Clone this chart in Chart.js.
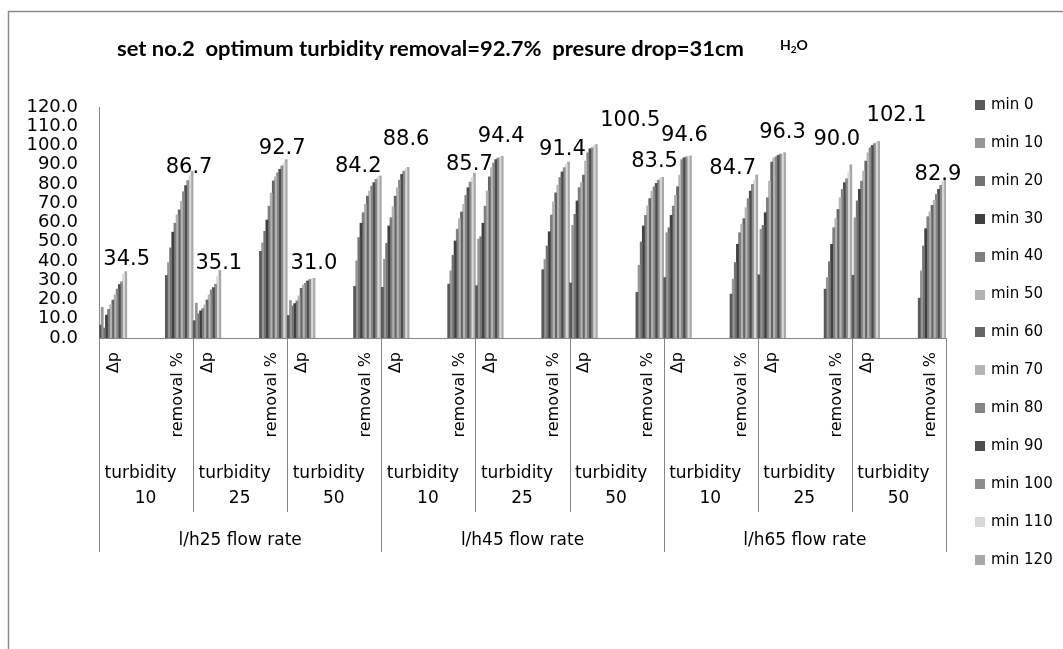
<!DOCTYPE html>
<html>
<head>
<meta charset="utf-8">
<script src="https://cdn.jsdelivr.net/npm/chart.js@4.4.1/dist/chart.umd.min.js"></script>
<style>
  body { margin: 0; background: #fff; }
  #wrap { width: 1063px; height: 649px; position: relative; }
</style>
</head>
<body>
<div id="wrap"><canvas id="myChart"></canvas></div>
<script>
// series = sampling time, categories = flow rate / turbidity / measured quantity
const minutes = ["min 0", "min 10", "min 20", "min 30", "min 40", "min 50", "min 60",
  "min 70", "min 80", "min 90", "min 100", "min 110", "min 120"];
const categories = ["Δp", "removal %", "Δp", "removal %", "Δp", "removal %",
  "Δp", "removal %", "Δp", "removal %", "Δp", "removal %",
  "Δp", "removal %", "Δp", "removal %", "Δp", "removal %"];
const turbidityLabels = ["10", "25", "50", "10", "25", "50", "10", "25", "50"];
const flowLabels = ["l/h25 flow rate", "l/h45 flow rate", "l/h65 flow rate"];
const yTicks = [0, 10, 20, 30, 40, 50, 60, 70, 80, 90, 100, 110, 120];

// values per category, min 0 .. min 120
const f25_t10_dp = [6.7, 15.9, 5.2, 11.9, 14.9, 17.3, 19.7, 22.5, 25.4, 27.8, 29.2, 33.2, 34.5];
const f25_t10_rem = [32.5, 39.2, 46.8, 55.0, 59.6, 64.0, 66.6, 71.0, 76.0, 79.2, 81.8, 84.2, 86.7];
const f25_t25_dp = [9.0, 18.1, 12.6, 14.1, 15.3, 17.2, 19.8, 22.4, 25.0, 26.2, 28.0, 31.9, 35.1];
const f25_t25_rem = [45.0, 49.4, 55.4, 61.3, 68.5, 75.3, 81.6, 83.8, 85.8, 87.6, 89.4, 91.0, 92.7];
const f25_t50_dp = [11.7, 19.5, 16.6, 17.9, 19.3, 21.9, 25.8, 27.6, 28.4, 29.6, 30.4, 30.8, 31.0];
const f25_t50_rem = [26.8, 40.1, 52.2, 59.6, 65.1, 69.5, 73.7, 76.3, 78.9, 80.7, 82.4, 83.6, 84.2];
const f45_t10_dp = [26.3, 40.9, 49.2, 58.2, 62.5, 68.2, 73.7, 78.1, 82.0, 85.0, 86.7, 87.9, 88.6];
const f45_t10_rem = [28.0, 34.9, 43.0, 50.4, 56.5, 62.0, 65.5, 69.4, 74.1, 78.1, 81.0, 83.5, 85.7];
const f45_t25_dp = [27.2, 51.4, 52.6, 59.6, 68.5, 76.4, 83.7, 88.5, 90.9, 92.7, 93.5, 94.0, 94.4];
const f45_t25_rem = [35.5, 40.8, 47.8, 55.2, 63.9, 70.7, 75.4, 79.4, 83.4, 86.3, 88.5, 90.2, 91.4];
const f45_t50_dp = [28.6, 58.5, 64.2, 71.2, 78.1, 80.7, 84.6, 91.9, 96.2, 98.3, 98.8, 100.0, 100.5];
const f45_t50_rem = [23.7, 37.8, 49.9, 58.2, 63.7, 68.6, 72.4, 76.3, 78.5, 80.3, 82.0, 83.2, 83.5];
const f65_t10_dp = [31.4, 54.7, 57.3, 63.7, 68.5, 74.1, 78.6, 84.6, 92.7, 93.6, 94.1, 94.4, 94.6];
const f65_t10_rem = [22.8, 30.6, 39.2, 48.7, 54.7, 59.1, 62.0, 67.7, 72.4, 76.3, 79.8, 82.0, 84.7];
const f65_t25_dp = [32.8, 56.5, 58.5, 65.1, 72.9, 81.5, 91.4, 93.6, 94.1, 94.8, 95.5, 95.9, 96.3];
const f65_t25_rem = [25.4, 31.4, 39.6, 48.7, 57.3, 62.0, 66.8, 72.9, 77.2, 80.7, 82.7, 85.8, 90.0];
const f65_t50_dp = [32.6, 62.5, 71.2, 77.2, 81.5, 86.7, 91.9, 96.2, 98.8, 100.0, 101.0, 101.7, 102.1];
const f65_t50_rem = [20.7, 34.9, 47.8, 56.8, 63.0, 65.5, 68.9, 71.5, 74.6, 77.2, 79.3, 81.3, 82.9];

const rows = [f25_t10_dp, f25_t10_rem, f25_t25_dp, f25_t25_rem, f25_t50_dp, f25_t50_rem,
  f45_t10_dp, f45_t10_rem, f45_t25_dp, f45_t25_rem, f45_t50_dp, f45_t50_rem,
  f65_t10_dp, f65_t10_rem, f65_t25_dp, f65_t25_rem, f65_t50_dp, f65_t50_rem];

const colors = ["#595959", "#969696", "#737373", "#404040", "#7f7f7f", "#b2b2b2", "#656565",
  "#b4b4b4", "#858585", "#4d4d4d", "#8c8c8c", "#d8d8d8", "#a8a8a8"];

// hand placed data labels in the original (shift from bar top, px)
const labelDx = [1, -3, -1, -4, 0, -22, -2, -5, -1, -6, 34, -8, -6, -24, -2, -14, 18, -7];
const labelGap = [7, -2, 1, 6, 9, 4, 22, 3, 14, 7, 19, 10, 15, 1, 15, 20, 20, -2];

const axisGray = "#868686";
const FONT = "'DejaVu Sans', sans-serif";

// Δp bars sit in slots 0-12, removal bars in slots 9-21 of each category
const datasets = [];
minutes.forEach((m, s) => {
  datasets.push({
    label: m,
    data: rows.map((r, i) => (i % 2 === 0 ? r[s] : null)),
    backgroundColor: colors[s],
    stack: "slot" + s,
  });
});
minutes.forEach((m, s) => {
  datasets.push({
    label: m,
    data: rows.map((r, i) => (i % 2 === 1 ? r[s] : null)),
    backgroundColor: colors[s],
    stack: "slot" + (s + 9),
  });
});

const extras = {
  id: "extras",
  beforeDraw(chart) {
    const ctx = chart.ctx;
    ctx.save();
    ctx.fillStyle = "#fff";
    ctx.fillRect(0, 0, chart.width, chart.height);
    ctx.strokeStyle = "#8c8c8c";
    ctx.lineWidth = 1.5;
    ctx.beginPath();
    ctx.moveTo(8.5, chart.height + 5);
    ctx.lineTo(8.5, 11.5);
    ctx.lineTo(chart.width + 5, 11.5);
    ctx.stroke();
    ctx.restore();
  },
  afterDatasetsDraw(chart) {
    const ctx = chart.ctx;
    const last = minutes.length - 1;
    ctx.save();
    ctx.font = "21px " + FONT;
    ctx.fillStyle = "#000";
    ctx.textAlign = "center";
    ctx.textBaseline = "alphabetic";
    rows.forEach((r, i) => {
      const dsIndex = i % 2 === 0 ? last : last + minutes.length;
      const el = chart.getDatasetMeta(dsIndex).data[i];
      ctx.fillText(r[last].toFixed(1), el.x + labelDx[i], el.y - labelGap[i]);
    });
    ctx.restore();
  },
  afterDraw(chart) {
    const ctx = chart.ctx;
    const x = chart.scales.x;
    const area = chart.chartArea;
    const catW = (area.right - area.left) / categories.length;
    ctx.save();

    // title
    const title = "set no.2  optimum turbidity removal=92.7%  presure drop=31cm";
    ctx.font = "bold 21px Lato, 'Liberation Sans', sans-serif";
    ctx.fillStyle = "#000";
    ctx.textBaseline = "alphabetic";
    const tw = ctx.measureText(title).width;
    ctx.save();
    ctx.translate(117, 56);
    ctx.scale(627 / tw, 1);
    ctx.textAlign = "left";
    ctx.fillText(title, 0, 0);
    ctx.restore();
    ctx.font = "bold 14px Lato, 'Liberation Sans', sans-serif";
    ctx.textAlign = "left";
    ctx.fillText("H", 780, 50);
    const hw = ctx.measureText("H").width;
    ctx.font = "bold 10px Lato, 'Liberation Sans', sans-serif";
    ctx.fillText("2", 780 + hw, 53);
    const sw = ctx.measureText("2").width;
    ctx.font = "bold 14px Lato, 'Liberation Sans', sans-serif";
    ctx.fillText("O", 780 + hw + sw, 50);

    // multi level category labels
    ctx.strokeStyle = axisGray;
    ctx.lineWidth = 1;
    for (let k = 0; k <= categories.length / 2; k++) {
      const bx = Math.round(area.left + k * 2 * catW) + 0.5;
      ctx.beginPath();
      ctx.moveTo(bx, area.bottom);
      ctx.lineTo(bx, k % 3 === 0 ? 552 : 512);
      ctx.stroke();
    }
    ctx.font = "16px " + FONT;
    ctx.fillStyle = "#000";
    categories.forEach((c, i) => {
      const cx = x.getPixelForValue(i) + (i % 2 === 0 ? -9 : 8);
      ctx.save();
      ctx.translate(cx, 352);
      ctx.rotate(-Math.PI / 2);
      ctx.textAlign = "right";
      ctx.textBaseline = "middle";
      ctx.fillText(c, 0, 0);
      ctx.restore();
    });
    ctx.font = "17px " + FONT;
    ctx.textAlign = "center";
    ctx.textBaseline = "alphabetic";
    turbidityLabels.forEach((t, k) => {
      const cx = area.left + (k * 2 + 1) * catW;
      ctx.fillText("turbidity", cx - 5.5, 478);
      ctx.fillText(t, cx - 0.5, 503);
    });
    flowLabels.forEach((f, k) => {
      const cx = area.left + (k * 6 + 3) * catW;
      ctx.fillText(f, cx, 545);
    });

    // legend
    ctx.font = "15px " + FONT;
    ctx.textAlign = "left";
    ctx.textBaseline = "middle";
    minutes.forEach((m, s) => {
      const cy = 105 + s * 37.9;
      ctx.fillStyle = colors[s];
      ctx.fillRect(975, Math.round(cy - 5), 10, 10);
      ctx.fillStyle = "#000";
      ctx.fillText(m, 991, cy);
    });
    ctx.restore();
  },
};

const ctx = document.getElementById("myChart").getContext("2d");
new Chart(ctx, {
  type: "bar",
  data: { labels: categories, datasets: datasets },
  options: {
    responsive: true,
    maintainAspectRatio: false,
    animation: false,
    layout: { padding: { top: 107, right: 117, left: 0, bottom: 0 } },
    datasets: {
      bar: { categoryPercentage: 1, barPercentage: 1, borderWidth: 0 },
    },
    plugins: {
      legend: { display: false },
      tooltip: { enabled: false },
    },
    scales: {
      x: {
        grid: { display: false, drawTicks: false },
        border: { color: axisGray, width: 1 },
        ticks: { display: false },
        afterFit: (scale) => { scale.height = 311; },
      },
      y: {
        stacked: false,
        min: 0,
        max: 120,
        afterBuildTicks: (scale) => { scale.ticks = yTicks.map((v) => ({ value: v })); },
        grid: { display: false, drawTicks: false },
        border: { color: axisGray, width: 1 },
        ticks: {
          autoSkip: false,
          padding: 21,
          color: "#000",
          font: { family: FONT, size: 18, lineHeight: 1 },
          callback: (v) => Number(v).toFixed(1),
        },
        afterFit: (scale) => { scale.width = 99; },
      },
    },
  },
  plugins: [extras],
});
</script>
</body>
</html>
